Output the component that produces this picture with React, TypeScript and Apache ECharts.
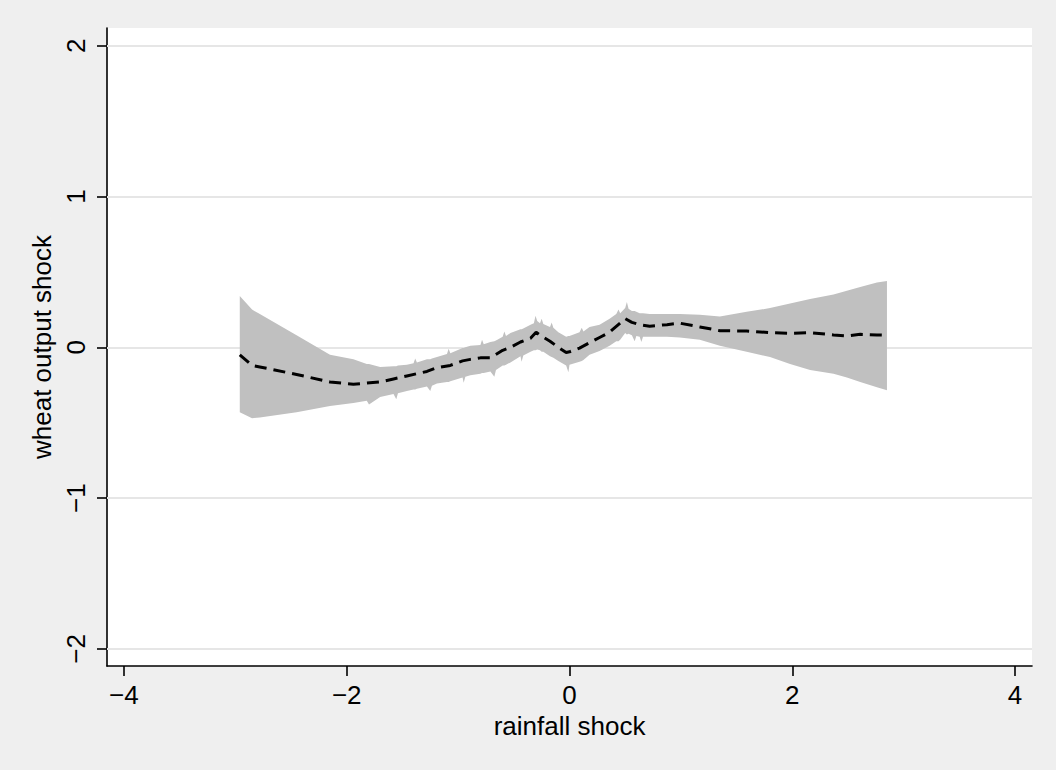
import React, { useEffect, useRef } from "react";
import * as echarts from "echarts";

// fitted wheat output shock against rainfall shock
const rainfall = [
  -2.96, -2.85, -2.78, -2.45, -2.15, -1.94, -1.7, -1.58, -1.46, -1.37, -1.28, -1.19, -1.07, -0.96,
  -0.89, -0.8, -0.71, -0.6, -0.53, -0.44, -0.35, -0.3, -0.265, -0.175, -0.1, -0.03, 0.0, 0.09,
  0.18, 0.27, 0.36, 0.5, 0.56, 0.63, 0.72, 0.875, 0.99, 1.17, 1.35, 1.59, 1.8, 1.98, 2.16, 2.37,
  2.49, 2.61, 2.76, 2.85,
];
const fitted = [
  -0.05, -0.12, -0.13, -0.18, -0.23, -0.245, -0.23, -0.21, -0.19, -0.175, -0.16, -0.135, -0.12,
  -0.09, -0.08, -0.07, -0.07, -0.02, 0.0, 0.035, 0.06, 0.1, 0.08, 0.04, 0.0, -0.035, -0.03,
  -0.005, 0.03, 0.065, 0.1, 0.19, 0.165, 0.15, 0.14, 0.15, 0.16, 0.135, 0.11, 0.108, 0.097,
  0.093, 0.097, 0.082, 0.075, 0.086, 0.082, 0.08,
];

// confidence band (read at a finer grid, including the visible jagged spikes)
const bandX = [
  -2.96, -2.85, -2.78, -2.45, -2.15, -1.94, -1.82, -1.8, -1.7, -1.58, -1.555, -1.54, -1.46, -1.4,
  -1.385, -1.37, -1.28, -1.25, -1.235, -1.19, -1.1, -1.085, -1.07, -0.96, -0.95, -0.935, -0.89,
  -0.8, -0.785, -0.77, -0.71, -0.675, -0.66, -0.6, -0.585, -0.57, -0.53, -0.44, -0.43, -0.415,
  -0.35, -0.32, -0.305, -0.29, -0.265, -0.25, -0.235, -0.175, -0.16, -0.145, -0.1, -0.03, -0.01,
  0.0, 0.09, 0.11, 0.125, 0.18, 0.27, 0.36, 0.42, 0.44, 0.455, 0.5, 0.515, 0.53, 0.56, 0.585,
  0.6, 0.63, 0.645, 0.66, 0.72, 0.875, 0.99, 1.17, 1.35, 1.59, 1.8, 1.98, 2.16, 2.37, 2.49, 2.61,
  2.76, 2.85,
];
const upperCI = [
  0.34, 0.25, 0.22, 0.08, -0.05, -0.08, -0.11, -0.11, -0.13, -0.125, -0.125, -0.12, -0.115, -0.105,
  -0.075, -0.1, -0.08, -0.08, -0.075, -0.065, -0.045, -0.01, -0.04, -0.005, -0.005, 0.0, 0.01,
  0.015, 0.05, 0.02, 0.035, 0.04, 0.045, 0.07, 0.105, 0.075, 0.095, 0.12, 0.12, 0.125, 0.15, 0.16,
  0.21, 0.175, 0.16, 0.19, 0.155, 0.135, 0.165, 0.13, 0.1, 0.07, 0.075, 0.075, 0.1, 0.13, 0.105,
  0.135, 0.15, 0.19, 0.22, 0.25, 0.225, 0.26, 0.3, 0.255, 0.24, 0.24, 0.235, 0.225, 0.225, 0.225,
  0.22, 0.22, 0.22, 0.215, 0.205, 0.235, 0.26, 0.29, 0.32, 0.35, 0.375, 0.4, 0.43, 0.44,
];
const lowerCI = [
  -0.43, -0.47, -0.465, -0.43, -0.39, -0.37, -0.355, -0.38, -0.33, -0.31, -0.345, -0.305, -0.29,
  -0.28, -0.28, -0.275, -0.26, -0.29, -0.255, -0.24, -0.23, -0.23, -0.225, -0.2, -0.235, -0.195,
  -0.185, -0.175, -0.17, -0.17, -0.16, -0.195, -0.15, -0.12, -0.12, -0.115, -0.1, -0.06, -0.095,
  -0.055, -0.03, -0.02, -0.02, -0.015, -0.02, -0.03, -0.03, -0.06, -0.065, -0.07, -0.09, -0.12,
  -0.165, -0.115, -0.095, -0.09, -0.085, -0.05, -0.025, 0.01, 0.04, 0.04, 0.05, 0.095, 0.085,
  0.09, 0.08, 0.04, 0.075, 0.07, 0.035, 0.07, 0.07, 0.07, 0.065, 0.05, 0.01, -0.03, -0.065, -0.11,
  -0.15, -0.175, -0.2, -0.23, -0.265, -0.285,
];
const xTicks = [-4, -2, 0, 2, 4];
const yTicks = [-2, -1, 0, 1, 2];

const FONT = "'Liberation Sans', Arial, Helvetica, sans-serif";
const minus = (v: number) => String(v).replace("-", "\u2212");

export default function App() {
  const ref = useRef<HTMLDivElement>(null);

  useEffect(() => {
    if (!ref.current) return;
    const chart = echarts.init(ref.current, null, { renderer: "svg" });
    const bandData = bandX.map((x, i) => [x, upperCI[i], lowerCI[i]]);
    const fitData = rainfall.map((x, i) => [x, fitted[i]]);

    chart.setOption({
      animation: false,
      backgroundColor: "#efefef",
      textStyle: { fontFamily: FONT, color: "#000" },
      grid: {
        left: 107,
        right: 24,
        top: 28,
        bottom: 104,
        show: true,
        backgroundColor: "#ffffff",
        borderWidth: 0,
      },
      xAxis: {
        type: "value",
        min: -4.152,
        max: 4.152,
        name: "rainfall shock",
        nameLocation: "middle",
        nameGap: 46,
        nameTextStyle: { fontSize: 26, color: "#000", fontFamily: FONT },
        axisLine: { show: true, onZero: false, lineStyle: { color: "#000", width: 1.6 } },
        axisTick: { show: true, length: 10, customValues: xTicks, lineStyle: { color: "#000", width: 1.6 } },
        axisLabel: {
          customValues: xTicks,
          fontSize: 26,
          color: "#000",
          fontFamily: FONT,
          margin: 16,
          formatter: minus,
        },
        splitLine: { show: false },
      },
      yAxis: {
        type: "value",
        min: -2.113,
        max: 2.117,
        name: "wheat output shock",
        nameLocation: "middle",
        nameGap: 48,
        nameRotate: 90,
        nameTextStyle: { fontSize: 26, color: "#000", fontFamily: FONT },
        axisLine: { show: true, onZero: false, lineStyle: { color: "#000", width: 1.6 } },
        axisTick: { show: true, length: 10, customValues: yTicks, lineStyle: { color: "#000", width: 1.6 } },
        axisLabel: {
          customValues: yTicks,
          rotate: 90,
          fontSize: 26,
          color: "#000",
          fontFamily: FONT,
          margin: 18,
          formatter: minus,
        },
        splitLine: { show: false },
      },
      series: [
        {
          type: "custom",
          name: "band",
          data: bandData,
          encode: { x: 0, y: [1, 2] },
          clip: true,
          silent: true,
          z: 3,
          renderItem: (params: any, api: any) => {
            if (params.dataIndex !== 0) return null;
            const top = bandData.map((d) => api.coord([d[0], d[1]]));
            const bottom = bandData.map((d) => api.coord([d[0], d[2]])).reverse();
            return {
              type: "polygon",
              shape: { points: top.concat(bottom) },
              style: { fill: "#c0c0c0", stroke: "none" },
            };
          },
          markLine: {
            silent: true,
            symbol: "none",
            z: 1,
            label: { show: false },
            lineStyle: { color: "#e6e6e6", width: 2, type: "solid" },
            data: yTicks.map((v) => ({ yAxis: v })),
          },
        },
        {
          type: "line",
          name: "fitted",
          data: fitData,
          symbol: "none",
          lineStyle: { color: "#000", width: 3, type: [12, 7] },
          silent: true,
          z: 4,
        },
      ],
    });
    return () => chart.dispose();
  }, []);

  return (
    <div
      ref={ref}
      style={{ position: "fixed", left: 0, top: 0, width: 1056, height: 770 }}
    />
  );
}
